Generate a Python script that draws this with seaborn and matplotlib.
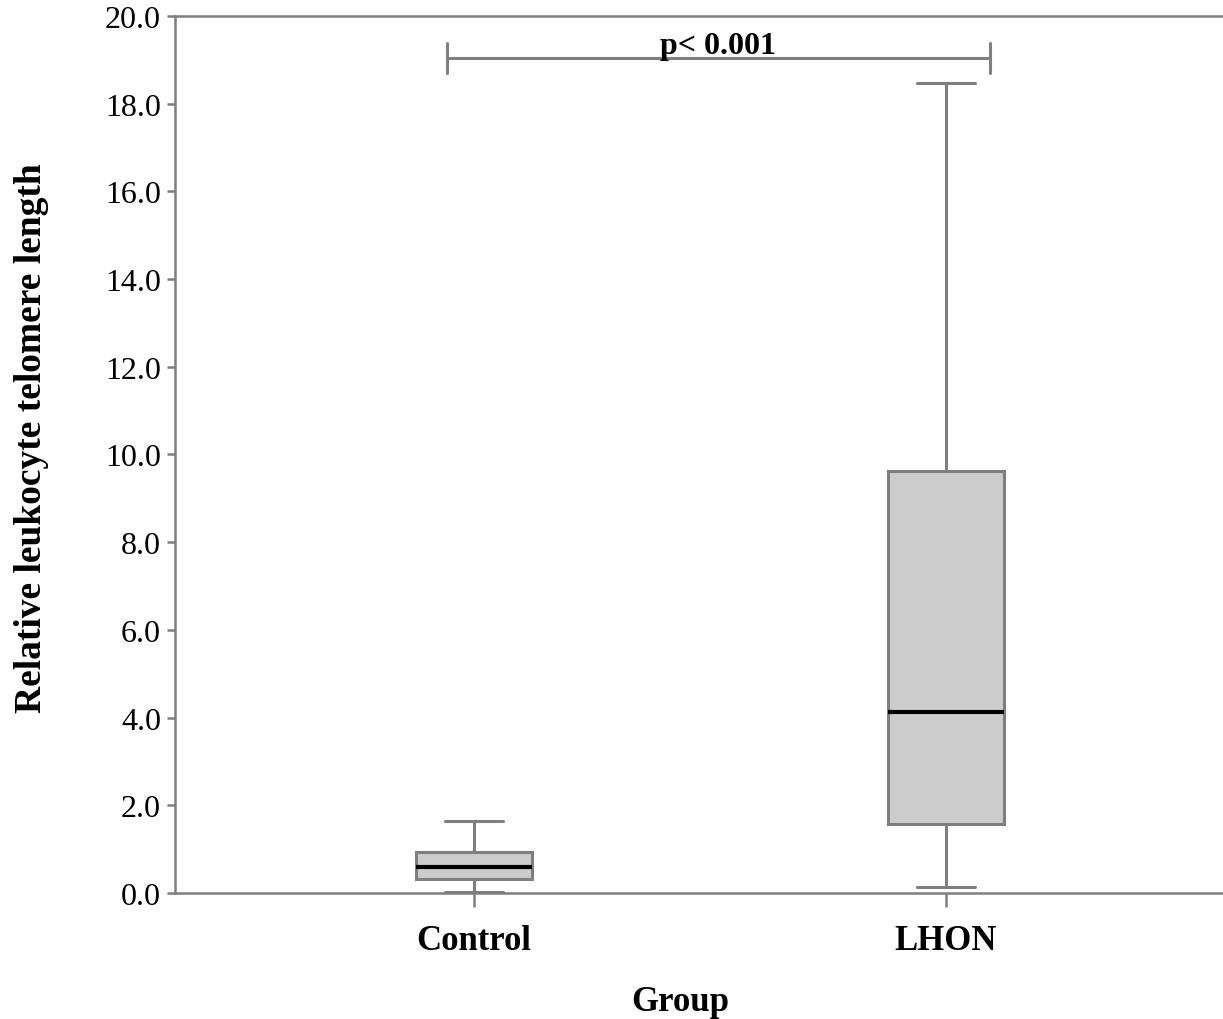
import pandas as pd
import matplotlib.pyplot as plt
import seaborn as sns

# Values (five-number summary per group)
groups = ["Control", "LHON"]
control_vals = [0.03, 0.32, 0.59, 0.94, 1.64]
lhon_vals = [0.14, 1.58, 4.13, 9.63, 18.47]
y_ticks = [0, 2, 4, 6, 8, 10, 12, 14, 16, 18, 20]
p_label = "p< 0.001"

data = pd.DataFrame({
    "Group": ["Control"] * len(control_vals) + ["LHON"] * len(lhon_vals),
    "RLTL": control_vals + lhon_vals,
})

sns.set_style("white")
plt.rcParams["font.family"] = ["Liberation Serif", "DejaVu Serif"]
plt.rcParams["text.color"] = "black"
plt.rcParams["axes.labelcolor"] = "black"
plt.rcParams["xtick.labelcolor"] = "black"
plt.rcParams["ytick.labelcolor"] = "black"

edge = "#7f7f7f"
fig = plt.figure(figsize=(12.23, 10.20), dpi=100)
ax = fig.add_axes([0.143, 0.1235, 0.857, 0.86])

sns.boxplot(data=data, x="Group", y="RLTL", order=groups, whis=(0, 100),
            width=0.245, color="#cccccc", linewidth=2.2, linecolor=edge,
            medianprops={"color": "black", "linewidth": 3},
            ax=ax)

ax.set_ylim(0, 20)
ax.set_xlim(-0.633, 1.587)
ax.set_yticks(y_ticks)
ax.set_yticklabels([f"{v:.1f}" for v in y_ticks], fontsize=23)
ax.set_xticks([0, 1])
ax.set_xticklabels(groups, fontsize=25, fontweight="bold")

ax.set_ylabel("Relative leukocyte telomere length", fontsize=27,
              fontweight="bold")
ax.yaxis.set_label_coords(-0.12, 0.52)
ax.set_xlabel("Group", fontsize=25, fontweight="bold")
ax.xaxis.set_label_coords(0.482, -0.105)

for side in ["left", "bottom", "top"]:
    ax.spines[side].set_color(edge)
    ax.spines[side].set_linewidth(1.8)
ax.spines["right"].set_visible(False)
ax.tick_params(axis="y", length=6, width=1.8, color=edge, left=True, pad=4)
ax.tick_params(axis="x", length=10, width=1.8, color=edge, bottom=True, pad=12)

# significance bracket
x0, x1, yb = -0.057, 0.093 + 1, 19.04
ax.plot([x0, x1], [yb, yb], color=edge, lw=2.2, clip_on=False)
ax.plot([x0, x0], [yb - 0.35, yb + 0.35], color=edge, lw=2.2)
ax.plot([x1, x1], [yb - 0.35, yb + 0.35], color=edge, lw=2.2)
ax.text(0.518, yb - 0.05, p_label, ha="center", va="bottom", fontsize=23,
        fontweight="bold")

plt.savefig("out.png", dpi=100)
plt.close()
